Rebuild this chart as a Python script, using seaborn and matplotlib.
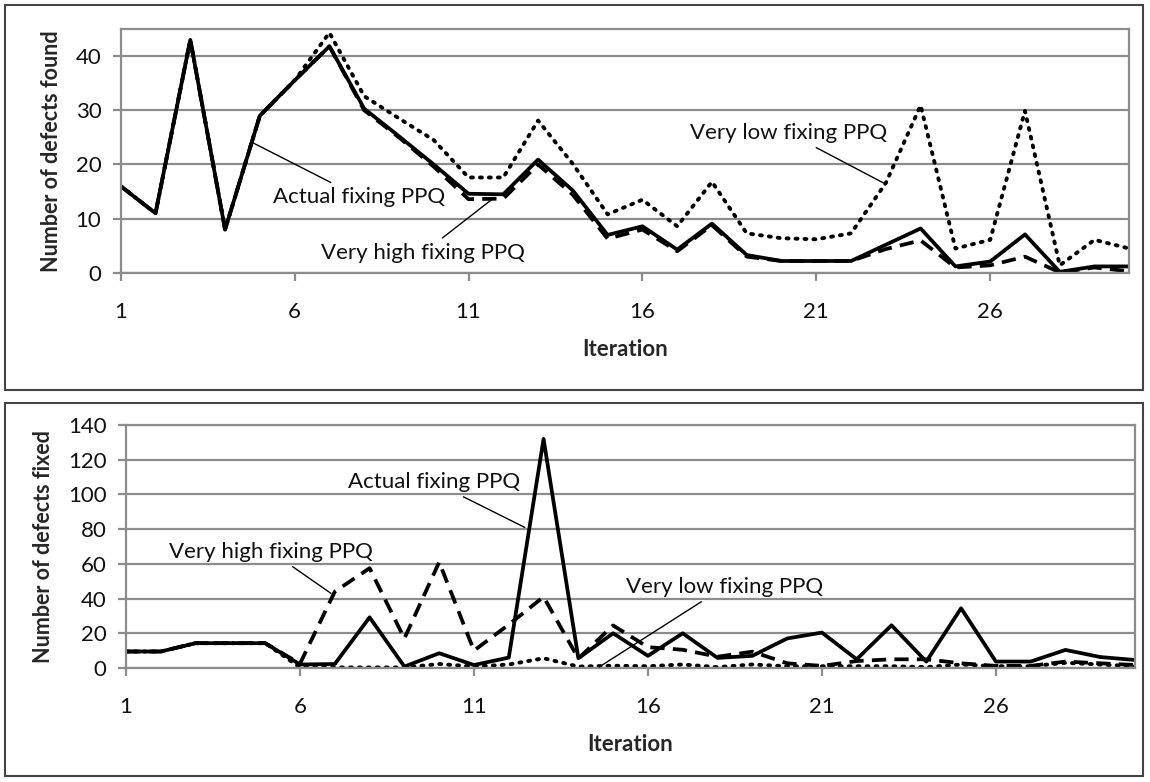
import pandas as pd
import matplotlib.pyplot as plt
import matplotlib.patches as mpatches
import seaborn as sns

iterations = list(range(1, 31))

# defects found per iteration
found_actual = [16, 11, 43, 8, 29, 35.5, 41.8, 30.3, 25.2, 20, 14.6, 14.5, 20.9, 15.2, 7, 8.6,
                4.3, 9.1, 3.3, 2.2, 2.2, 2.2, 5.2, 8.2, 1.2, 2.1, 7.1, 0.2, 1.2, 1.2]
found_high = [16, 11, 43, 8, 29, 35.5, 41.8, 30, 25, 19.6, 13.6, 13.7, 20, 14.4, 6.3, 8,
              4, 8.8, 3, 2.2, 2.2, 2.2, 4.4, 6, 1, 1.4, 3, 0.1, 1, 0.3]
found_low = [16, 11, 43, 8, 29, 35.5, 44.3, 32.6, 28.5, 24.5, 17.6, 17.6, 28.1, 20.1, 10.8, 13.5,
             8.6, 16.8, 7.3, 6.4, 6.2, 7.3, 16.6, 30.9, 4.5, 6.1, 29.9, 1.4, 6.1, 4.5]

# defects fixed per iteration
fixed_actual = [9.5, 9.5, 14.3, 14.3, 14.3, 2, 2.3, 29.2, 0.8, 8.5, 1.7, 6, 132, 5.6, 20, 7,
                20, 5.8, 7, 17, 20.4, 5, 24.6, 3.7, 34.4, 3.7, 3.7, 10.4, 6.3, 4.6]
fixed_high = [9.5, 9.5, 14.3, 14.3, 14.3, 2.5, 44, 57.5, 17, 61, 10, 25, 41, 5.5, 24.5, 12,
              10.5, 6.5, 9.4, 2.7, 1.2, 4, 5, 5, 2.7, 1.2, 1.2, 3.7, 2.7, 1.7]
fixed_low = [9.5, 9.5, 14.3, 14.3, 14.3, 0.3, 0.3, 0.3, 0.3, 2.3, 0.8, 2, 5.6, 0.8, 1.3, 1,
             2, 0.5, 2, 1, 1, 1, 1, 0.5, 2, 1, 1, 3, 2, 1]

labels = ['Actual fixing PPQ', 'Very high fixing PPQ', 'Very low fixing PPQ']

sns.set_theme(style="white")
plt.rcParams['font.family'] = ['Lato', 'DejaVu Sans']

fig = plt.figure(figsize=(11.5, 7.82), dpi=100)
fig.patch.set_facecolor('white')

# outer frames around each chart
for y0, h in [(0.501, 0.493), (0.008, 0.477)]:
    fig.patches.append(mpatches.Rectangle((0.004, y0), 0.990, h, transform=fig.transFigure,
                                          fill=False, edgecolor='#444444', linewidth=1.5))

ax1 = fig.add_axes([0.105, 0.651, 0.877, 0.312])
ax2 = fig.add_axes([0.1096, 0.1458, 0.8774, 0.3107])

grid_col = '#8c8c8c'


def draw(ax, actual, high, low, ymax, ystep, ylabel):
    df = pd.DataFrame({'Iteration': iterations, 'actual': actual, 'high': high, 'low': low})
    sns.lineplot(data=df, x='Iteration', y='low', ax=ax, color='black', lw=2.8,
                 linestyle=(0, (0.5, 1.8)), dash_capstyle='round')
    sns.lineplot(data=df, x='Iteration', y='high', ax=ax, color='black', lw=2.7,
                 linestyle=(0, (3.8, 2.2)))
    sns.lineplot(data=df, x='Iteration', y='actual', ax=ax, color='black', lw=2.7)
    ax.set_xlim(1, 30)
    ax.set_ylim(0, ymax)
    ax.set_xticks([1, 6, 11, 16, 21, 26])
    ax.set_yticks(range(0, ymax + 1, ystep))
    ax.yaxis.grid(True, color=grid_col, lw=1.6)
    ax.set_axisbelow(True)
    for s in ax.spines.values():
        s.set_color(grid_col)
        s.set_linewidth(1.6)
    ax.tick_params(axis='x', direction='out', length=6, width=1.6, color=grid_col,
                   pad=15, labelsize=16, labelcolor='#111111', bottom=True)
    ax.tick_params(axis='y', direction='out', length=6, width=1.6, color=grid_col,
                   pad=8, labelsize=16, labelcolor='#111111', left=True)
    ax.set_xlabel('Iteration', fontsize=16, fontweight='bold', labelpad=12)
    ax.set_ylabel(ylabel, fontsize=15.5, fontweight='bold', labelpad=10)


draw(ax1, found_actual, found_high, found_low, 45, 10, 'Number of defects found')
draw(ax2, fixed_actual, fixed_high, fixed_low, 140, 20, 'Number of defects fixed')

arrow = dict(arrowstyle='-', color='black', lw=1.0, shrinkA=2, shrinkB=0)
txt = dict(fontsize=16, ha='center', va='center', color='#111111')

ax1.annotate(labels[0], xy=(4.8, 24), xytext=(7.86, 14.0), arrowprops=arrow, **txt)
ax1.annotate(labels[1], xy=(11.7, 13.7), xytext=(9.7, 3.7), arrowprops=arrow, **txt)
ax1.annotate(labels[2], xy=(22.93, 16.6), xytext=(20.2, 25.8), arrowprops=arrow, **txt)

ax2.annotate(labels[0], xy=(12.46, 81), xytext=(9.86, 107), arrowprops=arrow, **txt)
ax2.annotate(labels[1], xy=(6.89, 43), xytext=(5.17, 67), arrowprops=arrow, **txt)
ax2.annotate(labels[2], xy=(14.6, 0.6), xytext=(18.2, 46.7), arrowprops=arrow, **txt)

plt.savefig('out.png', dpi=100)
